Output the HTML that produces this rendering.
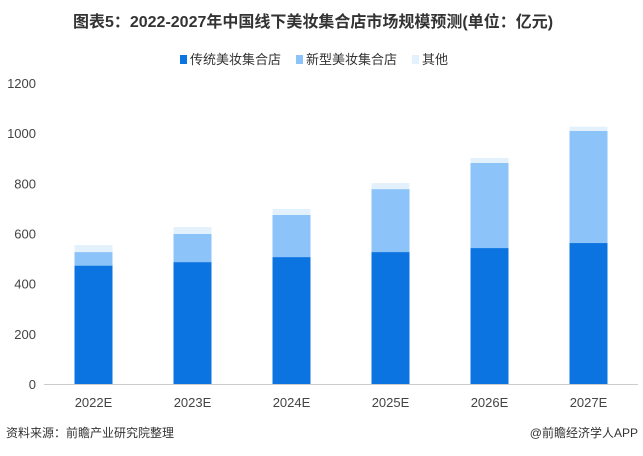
<!DOCTYPE html>
<html><head><meta charset="utf-8"><style>
body{margin:0;width:643px;height:451px;background:#fff;font-family:"Liberation Sans","Noto Sans CJK SC",sans-serif;overflow:hidden}
</style></head><body>
<svg id="c" width="643" height="451" xmlns="http://www.w3.org/2000/svg">
<text x="313" y="27" text-anchor="middle" font-size="16" font-weight="bold" fill="#333" font-family="Liberation Sans,Noto Sans CJK SC,sans-serif">图表5：2022-2027年中国线下美妆集合店市场规模预测(单位：亿元)</text>
<g font-size="13" fill="#333" font-family="Liberation Sans,Noto Sans CJK SC,sans-serif">
<rect x="180" y="55" width="7" height="9" fill="#0b74e0"/>
<text x="190" y="64">传统美妆集合店</text>
<rect x="296" y="55" width="7" height="9" fill="#8cc3f8"/>
<text x="306" y="64">新型美妆集合店</text>
<rect x="412" y="55" width="7" height="9" fill="#e3f1fd"/>
<text x="422" y="64">其他</text>
</g>
<g id="plot"></g>
<text x="6" y="437" font-size="12" fill="#333">资料来源：前瞻产业研究院整理</text>
<text x="638" y="437" font-size="12" fill="#333" text-anchor="end">@前瞻经济学人APP</text>
</svg>
<script>
const categories=["2022E","2023E","2024E","2025E","2026E","2027E"];
const traditional=[472,486,506,526,542,562];
const newType=[54,112,168,251,339,447];
const other=[28,28,24,24,20,17];
const yTicks=[0,200,400,600,800,1000,1200];
const NS="http://www.w3.org/2000/svg";
const g=document.getElementById('plot');
const y0=384,yTop=83,yMax=1200,x0=44,band=99,bw=38;
const y=v=>y0-(v/yMax)*(y0-yTop);
const xc=i=>x0+band*(i+0.5);
function mk(t,a){const e=document.createElementNS(NS,t);for(const k in a)e.setAttribute(k,a[k]);g.appendChild(e);return e;}
yTicks.forEach(v=>{const t=mk('text',{x:36,y:y(v)+5,'text-anchor':'end','font-size':13,fill:'#444'});t.textContent=v;

});
const ax=mk('line',{x1:x0,x2:638,y1:y0+0.5,y2:y0+0.5,stroke:'#ccc'});


categories.forEach((c,i)=>{
 const series=[[traditional[i],'#0b74e0','traditional'],[newType[i],'#8cc3f8','new'],[other[i],'#e3f1fd','other']];
 let base=0;
 series.forEach(([v,col,n])=>{
  const r=mk('rect',{x:xc(i)-bw/2,y:y(base+v),width:bw,height:y(base)-y(base+v),fill:col});
  
  
  base+=v;});
 const t=mk('text',{x:xc(i),y:407,'text-anchor':'middle','font-size':13,fill:'#444'});t.textContent=c;
 
 
});
</script>
</body></html>
